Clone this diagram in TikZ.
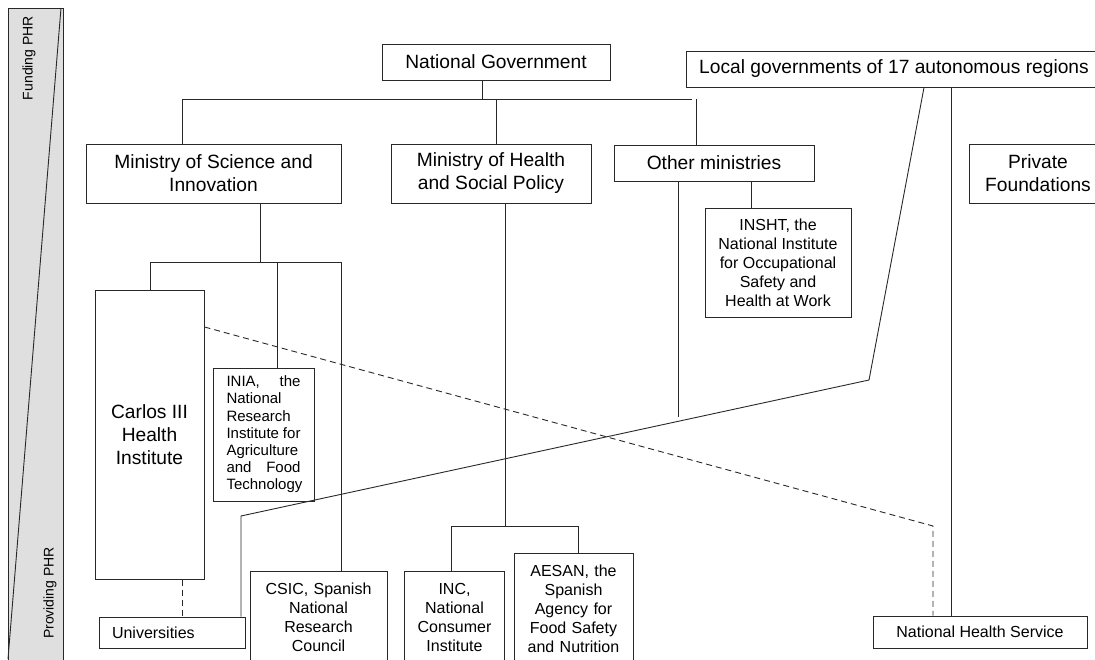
\documentclass[tikz,border=0pt]{standalone}
\usepackage{fontspec}
\setmainfont{Liberation Sans}
\definecolor{SideGray}{RGB}{223, 223, 223}
\definecolor{LineGray}{RGB}{40, 40, 40}
\tikzset{
  orgbox/.style={draw=LineGray, line width=1pt, align=center, inner sep=0pt,
    font=\fontsize{19.2}{23}\selectfont},
  smallbox/.style={draw=LineGray, line width=1pt, align=center, inner sep=0pt,
    font=\fontsize{16}{19}\selectfont},
  cutbox/.style={smallbox, anchor=north, inner xsep=4pt, inner ysep=10.5pt,
    text height=12pt, text depth=90pt},
  link/.style={LineGray, line width=0.9pt},
  maybe/.style={link, dash pattern=on 6pt off 4pt}
}

\begin{document}
\begin{tikzpicture}[x=1pt, y=-1pt]
		\useasboundingbox (0, 0) rectangle (1095, 659);
		\clip (0, 0) rectangle (1095, 659);
		\filldraw[fill=SideGray, draw=LineGray, line width=1pt] (8, 8) rectangle (63, 670);
		\draw[link] (61, 8) -- (8, 659);
		\node[rotate=90, font=\fontsize{14}{16}\selectfont] (funding) at (29, 58) {Funding PHR};
		\node[rotate=90, font=\fontsize{14}{16}\selectfont] (providing) at (50, 593) {Providing PHR};

		\node[orgbox, minimum width=228pt, minimum height=36pt] (natgov) at (496, 62) {National Government};
		\node[orgbox, minimum width=416pt, minimum height=36pt] (localgov) at (894, 69) {Local governments of 17 autonomous regions};
		\node[orgbox, minimum width=255pt, minimum height=59pt] (msi) at (213.5, 173.5) {Ministry of Science and\\Innovation};
		\node[orgbox, minimum width=200pt, minimum height=59pt] (mhsp) at (491, 173.5) {Ministry of Health\\and Social Policy};
		\node[orgbox, minimum width=200pt, minimum height=36pt] (othermin) at (714, 163) {Other ministries};
		\node[orgbox, minimum width=138pt, minimum height=59pt] (privfound) at (1038, 173.5) {Private\\Foundations};
		\node[smallbox, minimum width=146pt, minimum height=109pt] (insht) at (778, 262.5) {INSHT, the\\National Institute\\for Occupational\\Safety and\\Health at Work};
		\node[orgbox, minimum width=109pt, minimum height=289pt] (carlos) at (149.5, 434.5) {Carlos III\\Health\\Institute};
		\node[smallbox, font=\fontsize{15}{17.2}\selectfont, align=left, text width=74pt, inner xsep=13.5pt, minimum height=133pt] (inia) at (263.5, 434.5) {INIA,\hfill the\\National\\Research\\Institute\hfill for\\Agriculture\\and\hfill Food\\Technology};
		\node[cutbox, text width=129pt] (csic) at (318.5, 571) {CSIC, Spanish\\National\\Research\\Council};
		\node[cutbox, text width=92pt] (inc) at (454.5, 571) {INC,\\National\\Consumer\\Institute};
		\node[cutbox, text width=111pt] (aesan) at (573.5, 553) {AESAN, the\\Spanish\\Agency for\\Food Safety\\and Nutrition};
		\node[smallbox, align=left, text width=120pt, inner xsep=13pt, minimum height=31pt] (univ) at (172, 632.5) {Universities};
		\node[smallbox, minimum width=214pt, minimum height=32pt] (nhs) at (980, 632) {National Health Service};

		\coordinate (govbus) at (482, 99);
		\coordinate (busL) at (182, 99);
		\coordinate (busR) at (692, 99);
		\draw[link] (govbus |- natgov.south) -- (govbus);
		\draw[link] (busL |- msi.north) -- (busL) -- (busR);
		\foreach \x/\n in {496/mhsp, 696/othermin}{
			\coordinate (drop) at (\x, 99);
			\draw[link] (drop) -- (drop |- \n.north);
		}

		\coordinate (sciM) at (260, 262);
		\coordinate (sciL) at (150, 262);
		\coordinate (sciR) at (341, 262);
		\coordinate (sciI) at (277, 262);
		\draw[link] (sciM |- msi.south) -- (sciM);
		\draw[link] (sciL |- carlos.north) -- (sciL) -- (sciR) -- (sciR |- csic.north);
		\draw[link] (sciI) -- (sciI |- inia.north);

		\coordinate (hltM) at (505, 526);
		\coordinate (hltL) at (451, 526);
		\coordinate (hltR) at (578, 526);
		\draw[link] (hltM |- mhsp.south) -- (hltM);
		\draw[link] (hltL |- inc.north) -- (hltL) -- (hltR) -- (hltR |- aesan.north);

		\coordinate (otherEnd) at (678, 417);
		\coordinate (inshtJ) at (751, 190);
		\draw[link] (otherEnd |- othermin.south) -- (otherEnd);
		\draw[link] (inshtJ |- othermin.south) -- (inshtJ |- insht.north);

		\coordinate (lgTop) at (924, 90);
		\coordinate (lgBend) at (869, 380);
		\coordinate (lgLow) at (241, 516);
		\coordinate (nhsJ) at (951, 90);
		\draw[link] (lgTop |- localgov.south) -- (lgBend) -- (lgLow) -- (lgLow |- univ.north);
		\draw[link] (nhsJ |- localgov.south) -- (nhsJ |- nhs.north);

		\coordinate (dashBend) at (933, 526);
		\coordinate (carlosDrop) at (182, 579);
		\draw[maybe] ([yshift=107.5pt]carlos.east) -- (dashBend) -- (dashBend |- nhs.north);
		\draw[maybe] (carlosDrop |- carlos.south) -- (carlosDrop |- univ.north);
	\end{tikzpicture}
\end{document}
